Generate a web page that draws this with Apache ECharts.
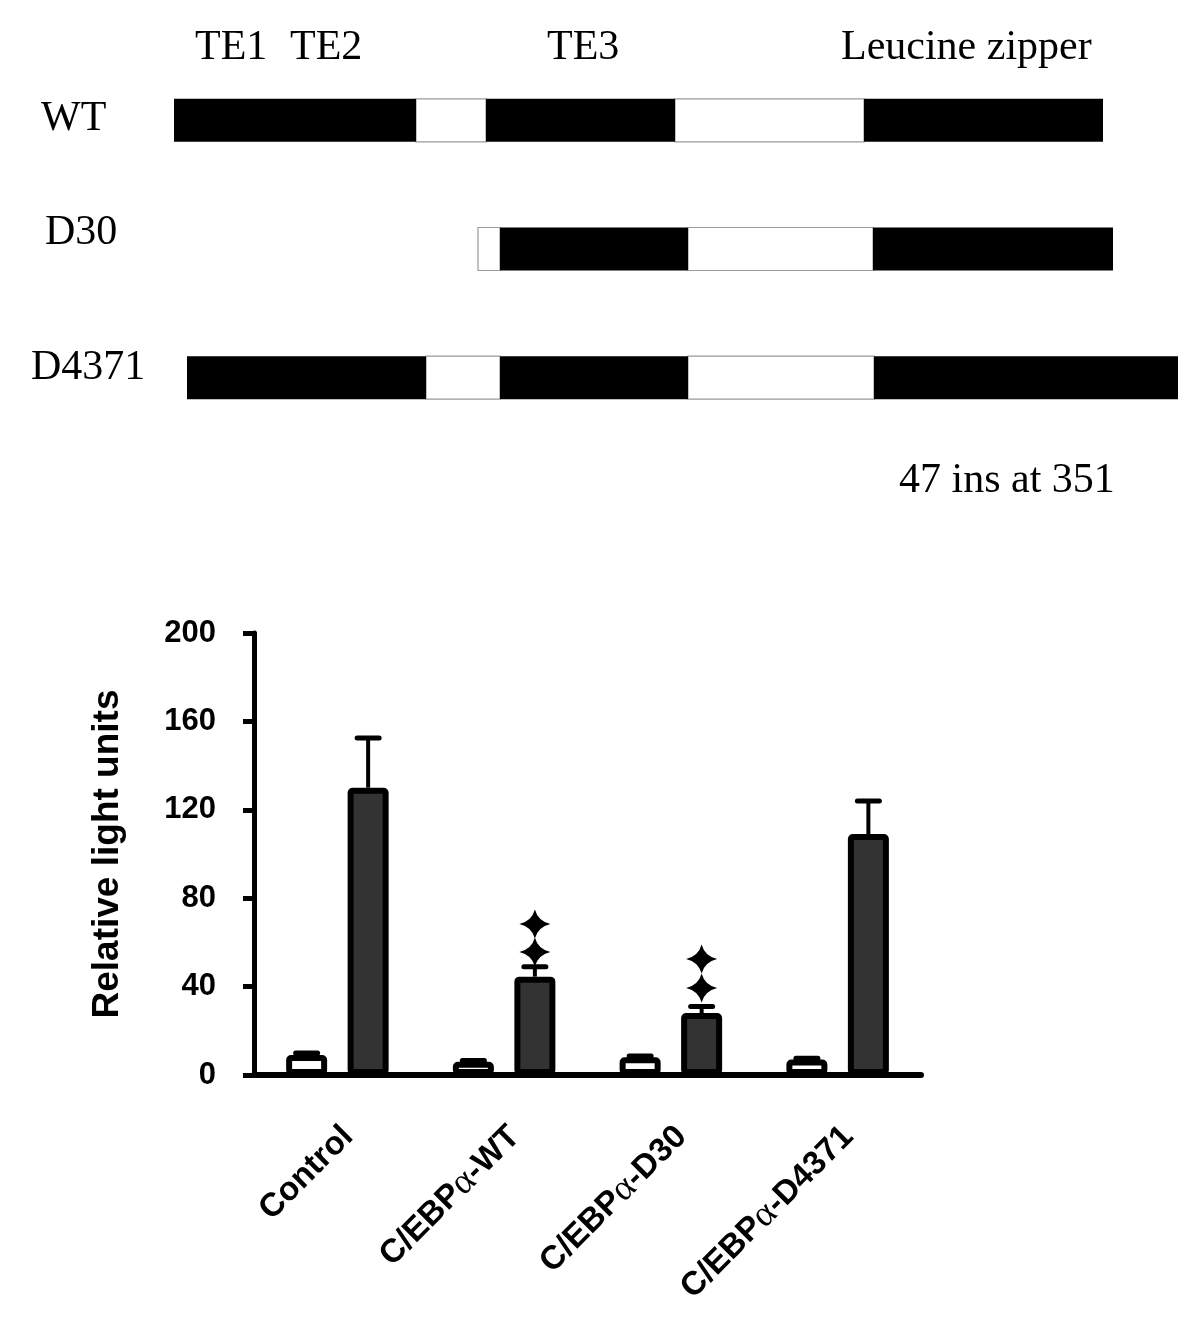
<!DOCTYPE html>
<html>
<head>
<meta charset="utf-8">
<style>
html,body{margin:0;padding:0;background:#fff;}
#chart{width:1200px;height:1329px;}
</style>
<script src="https://cdn.jsdelivr.net/npm/echarts@6/dist/echarts.min.js"></script>
</head>
<body>
<div id="chart"></div>
<script>
// ---------- Domain diagram data (positions along construct, arbitrary units) ----------
const constructs = ['WT', 'D30', 'D4371'];
const wtBounds    = [0, 242, 312, 501, 690, 929];
const wtKinds     = ['domain', 'linker', 'domain', 'linker', 'domain'];
const d30Bounds   = [304, 326, 514, 699, 939];
const d30Kinds    = ['linker', 'domain', 'linker', 'domain'];
const d4371Bounds = [13, 252, 326, 514, 700, 1004];
const d4371Kinds  = ['domain', 'linker', 'domain', 'linker', 'domain'];
const domainLabels = ['TE1', 'TE2', 'TE3', 'Leucine zipper'];
const insertionNote = '47 ins at 351';

// ---------- Bar chart data ----------
const categories = ['Control', 'C/EBPα-WT', 'C/EBPα-D30', 'C/EBPα-D4371'];
const basalValues   = [9, 6, 8, 7];
const basalErrTop   = [10, 6.6, 8.6, 7.6];
const inducedValues = [130, 44.5, 28, 109];
const inducedErrTop = [152.5, 49, 31, 124];
const starCats   = [1, 1, 2, 2];
const starValues = [68.3, 55.7, 52.5, 39.4];
const yTicks = [0, 40, 80, 120, 160, 200];
const yAxisTitle = 'Relative light units';

// ---------- build ----------
function buildSegs(row, bounds, kinds) {
  const out = [];
  for (let i = 0; i < kinds.length; i++) {
    out.push([row, bounds[i], bounds[i + 1], kinds[i] === 'domain' ? 1 : 0]);
  }
  return out;
}
const segData = [].concat(
  buildSegs(0, wtBounds, wtKinds),
  buildSegs(1, d30Bounds, d30Kinds),
  buildSegs(2, d4371Bounds, d4371Kinds)
);

const SERIF = '"Liberation Serif", "Times New Roman", serif';
const SANS = '"Liberation Sans", Arial, sans-serif';
const BAR_W = 41;
const BAR_GAP = 0.5; // fraction of bar width
const GROUP_OFF = BAR_W / 2 + BAR_W * BAR_GAP / 2;

const errData = [];
for (let i = 0; i < categories.length; i++) {
  errData.push([i, basalValues[i], basalErrTop[i], -1]);
  errData.push([i, inducedValues[i], inducedErrTop[i], 1]);
}
const starData = starCats.map((c, i) => [c, starValues[i]]);

const chart = echarts.init(document.getElementById('chart'), null, {renderer: 'canvas'});

const textStyle = (extra) => Object.assign({fontSize: 42, fontFamily: SERIF, fill: '#000', align: 'left', verticalAlign: 'middle'}, extra);

const option = {
  backgroundColor: '#ffffff',
  animation: false,
  grid: [
    {left: 174, width: 1004, top: 56, height: 386, containLabel: false},
    {left: 254, width: 667, top: 633, height: 442, containLabel: false}
  ],
  xAxis: [
    {gridIndex: 0, type: 'value', min: 0, max: 1004, show: false},
    {
      gridIndex: 1, type: 'category', data: categories,
      axisLine: {lineStyle: {color: '#000', width: 6}},
      axisTick: {alignWithLabel: true, length: 11, lineStyle: {color: '#000', width: 5}},
      axisLabel: {
        rotate: 45, margin: 46, color: '#000', fontSize: 33, fontWeight: 'bold', fontFamily: SANS,
        padding: [30, 0, 0, 0],
        formatter: function (v) {
          return v.replace('α', '{a|α}');
        },
        rich: {a: {fontFamily: SERIF, fontSize: 37, fontWeight: 'normal', color: '#000'}}
      }
    }
  ],
  yAxis: [
    {gridIndex: 0, type: 'category', data: constructs, inverse: true, show: false},
    {
      gridIndex: 1, type: 'value', min: 0, max: 200, interval: 40,
      name: yAxisTitle, nameLocation: 'middle', nameGap: 128,
      nameTextStyle: {fontSize: 37, fontWeight: 'bold', fontFamily: SANS, color: '#000'},
      axisLine: {show: true, lineStyle: {color: '#000', width: 5}},
      axisTick: {show: true, length: 11, lineStyle: {color: '#000', width: 5}},
      axisLabel: {margin: 38, color: '#000', fontSize: 31, fontWeight: 'bold', fontFamily: SANS,
        formatter: function (v) { return yTicks.indexOf(v) >= 0 ? String(v) : ''; }},
      splitLine: {show: false}
    }
  ],
  series: [
    {
      type: 'custom', xAxisIndex: 0, yAxisIndex: 0, data: segData,
      encode: {x: [1, 2], y: 0},
      renderItem: function (params, api) {
        const row = api.value(0);
        const p0 = api.coord([api.value(1), row]);
        const p1 = api.coord([api.value(2), row]);
        const h = 43;
        const isDomain = api.value(3) === 1;
        return {
          type: 'rect',
          shape: {x: p0[0], y: p0[1] - h / 2, width: p1[0] - p0[0], height: h},
          style: isDomain ? {fill: '#000', stroke: '#000', lineWidth: 0}
                          : {fill: '#fff', stroke: '#9a9a9a', lineWidth: 1.2},
          z2: isDomain ? 2 : 1
        };
      }
    },
    {
      type: 'custom', xAxisIndex: 1, yAxisIndex: 1, data: errData, z: 1,
      renderItem: function (params, api) {
        const cat = api.value(0);
        const base = api.coord([cat, api.value(1)]);
        const top = api.coord([cat, api.value(2)]);
        const x = base[0] + api.value(3) * GROUP_OFF;
        const capHalf = 11;
        return {
          type: 'group',
          children: [
            {type: 'line', shape: {x1: x, y1: base[1], x2: x, y2: top[1]}, style: {stroke: '#000', lineWidth: 4}},
            {type: 'line', shape: {x1: x - capHalf, y1: top[1], x2: x + capHalf, y2: top[1]}, style: {stroke: '#000', lineWidth: 5, lineCap: 'round'}}
          ]
        };
      }
    },
    {
      type: 'bar', xAxisIndex: 1, yAxisIndex: 1, data: basalValues, z: 3,
      barWidth: BAR_W, barGap: (BAR_GAP * 100) + '%',
      itemStyle: {color: '#ffffff', borderColor: '#000', borderWidth: 6, borderRadius: 2}
    },
    {
      type: 'bar', xAxisIndex: 1, yAxisIndex: 1, data: inducedValues, z: 3,
      barWidth: BAR_W, barGap: (BAR_GAP * 100) + '%',
      itemStyle: {color: '#333333', borderColor: '#000', borderWidth: 6, borderRadius: 2}
    },
    {
      type: 'scatter', xAxisIndex: 1, yAxisIndex: 1, data: starData, z: 4,
      symbol: 'path://M0,-1 Q0.2,-0.2 1,0 Q0.2,0.2 0,1 Q-0.2,0.2 -1,0 Q-0.2,-0.2 0,-1 Z',
      symbolSize: [31, 29], symbolOffset: [GROUP_OFF, 0],
      itemStyle: {color: '#000', opacity: 1}
    }
  ],
  graphic: [
    {type: 'text', x: 195, y: 48, style: textStyle({text: domainLabels[0]})},
    {type: 'text', x: 290, y: 48, style: textStyle({text: domainLabels[1]})},
    {type: 'text', x: 547, y: 48, style: textStyle({text: domainLabels[2]})},
    {type: 'text', x: 841, y: 48, style: textStyle({text: domainLabels[3]})},
    {type: 'text', x: 41, y: 119, style: textStyle({text: constructs[0]})},
    {type: 'text', x: 45, y: 233, style: textStyle({text: constructs[1]})},
    {type: 'text', x: 31, y: 368, style: textStyle({text: constructs[2]})},
    {type: 'text', x: 899, y: 481, style: textStyle({text: insertionNote})}
  ]
};
chart.setOption(option);
</script>
</body>
</html>
